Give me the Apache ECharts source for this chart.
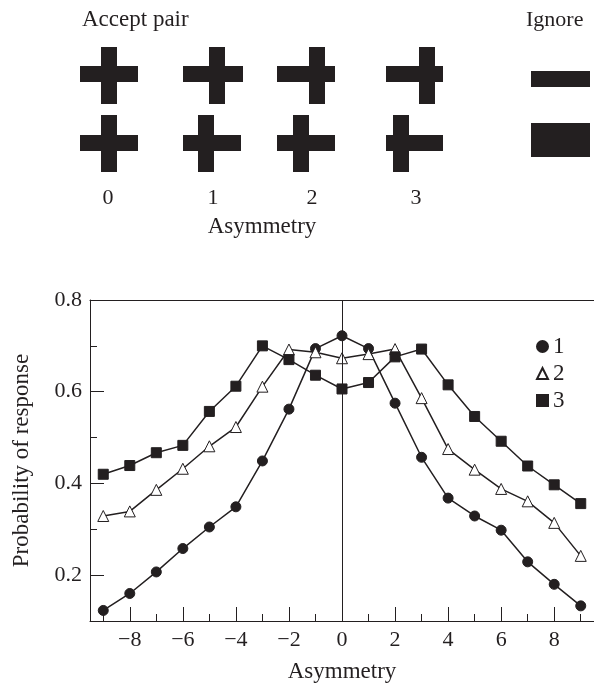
<!DOCTYPE html>
<html>
<head>
<meta charset="utf-8">
<script src="https://cdn.jsdelivr.net/npm/echarts@6/dist/echarts.min.js"></script>
<style>
  html, body { margin: 0; padding: 0; background: #fff; }
  #main { width: 594px; height: 684px; }
</style>
</head>
<body>
<div id="main"></div>
<script>
// asymmetry values along the x axis
var asymmetry = [-9, -8, -7, -6, -5, -4, -3, -2, -1, 0, 1, 2, 3, 4, 5, 6, 7, 8, 9];
var seriesNames = ['1', '2', '3'];
// probability of response
var pair1 = [0.123, 0.160, 0.207, 0.258, 0.305, 0.349, 0.449, 0.562, 0.694, 0.722, 0.694, 0.575, 0.457, 0.368, 0.329, 0.298, 0.229, 0.180, 0.133];
var pair2 = [0.329, 0.339, 0.386, 0.432, 0.481, 0.523, 0.611, 0.692, 0.686, 0.673, 0.682, 0.693, 0.586, 0.475, 0.430, 0.388, 0.361, 0.314, 0.242];
var pair3 = [0.420, 0.439, 0.467, 0.483, 0.557, 0.612, 0.700, 0.670, 0.636, 0.606, 0.620, 0.676, 0.693, 0.615, 0.546, 0.492, 0.438, 0.397, 0.356];
// tick labels
var xMajor = [-8, -6, -4, -2, 0, 2, 4, 6, 8];
var xMinor = [-9, -7, -5, -3, -1, 1, 3, 5, 7, 9];
var yMajor = [0.2, 0.4, 0.6, 0.8];
var yMinor = [0.3, 0.5, 0.7];
var pairLabels = ['0', '1', '2', '3'];

var ink = '#231f20';
var serif = '"Liberation Serif", "Times New Roman", serif';

// stimulus drawings above the chart (pixel layout of the crosses)
var crossRows = [
    { hy: 66, vy: 47 },
    { hy: 135, vy: 115 }
];
var crossCols = [
    { h: [[80, 138], [80, 138]], v: [101, 101], label: 108 },
    { h: [[183, 243], [183, 241]], v: [209, 198], label: 213 },
    { h: [[277, 335], [277, 335]], v: [309, 293], label: 312 },
    { h: [[386, 443], [386, 443]], v: [419, 393], label: 416 }
];
var barW = 16, vLen = 57;

var graphics = [];
crossCols.forEach(function(c, i) {
    crossRows.forEach(function(r, j) {
        graphics.push({
            type: 'rect',
            shape: { x: c.h[j][0], y: r.hy, width: c.h[j][1] - c.h[j][0], height: barW },
            style: { fill: ink }
        });
        graphics.push({
            type: 'rect',
            shape: { x: c.v[j], y: r.vy, width: barW, height: vLen },
            style: { fill: ink }
        });
    });
    graphics.push({
        type: 'text',
        x: c.label, y: 198,
        style: { text: pairLabels[i], font: '22px ' + serif, fill: ink, align: 'center', verticalAlign: 'middle' }
    });
});
graphics.push(
    { type: 'rect', shape: { x: 531, y: 71, width: 59, height: 16 }, style: { fill: ink } },
    { type: 'rect', shape: { x: 531, y: 123, width: 59, height: 34 }, style: { fill: ink } },
    { type: 'text', x: 82, y: 20, style: { text: 'Accept pair', font: '23px ' + serif, fill: ink, verticalAlign: 'middle' } },
    { type: 'text', x: 526, y: 20, style: { text: 'Ignore', font: '22px ' + serif, fill: ink, verticalAlign: 'middle' } },
    { type: 'text', x: 262, y: 227, style: { text: 'Asymmetry', font: '23px ' + serif, fill: ink, align: 'center', verticalAlign: 'middle' } }
);

var lineStyle = { color: ink, width: 1 };
var minus = function(v) { return String(v).replace('-', '\u2212'); };

function makeSeries(name, data, symbol, size, fill) {
    return {
        name: name,
        type: 'line',
        data: asymmetry.map(function(x, i) { return [x, data[i]]; }),
        symbol: symbol,
        symbolSize: size,
        showSymbol: true,
        lineStyle: { color: ink, width: 1.5 },
        itemStyle: { color: fill, borderColor: ink, borderWidth: 1 },
        z: 3
    };
}

var series = [
    makeSeries(seriesNames[0], pair1, 'circle', 10, ink),
    makeSeries(seriesNames[1], pair2, 'triangle', 11, '#fff'),
    makeSeries(seriesNames[2], pair3, 'rect', 10, ink)
];
series[0].markLine = {
    silent: true,
    symbol: 'none',
    label: { show: false },
    lineStyle: { color: ink, width: 1, type: 'solid' },
    data: [{ xAxis: 0 }]
};

var myChart = echarts.init(document.getElementById('main'));
myChart.setOption({
    animation: false,
    backgroundColor: '#fff',
    graphic: graphics,
    grid: { left: 90, top: 300, width: 506, height: 322 },
    legend: {
        orient: 'vertical',
        left: 531,
        top: 330,
        itemWidth: 11,
        itemHeight: 11,
        itemGap: 4,
        textStyle: { fontFamily: serif, fontSize: 23, color: ink, lineHeight: 20 },
        data: [
            { name: '1', icon: 'circle' },
            { name: '2', icon: 'triangle' },
            { name: '3', icon: 'rect' }
        ]
    },
    xAxis: [{
        type: 'value', min: -9.5, max: 9.5, position: 'bottom',
        axisLine: { onZero: false, lineStyle: lineStyle },
        axisTick: { inside: true, length: 14, customValues: xMajor, lineStyle: lineStyle },
        axisLabel: { customValues: xMajor, formatter: minus, fontFamily: serif, fontSize: 22, color: ink, margin: 8 },
        splitLine: { show: false },
        name: 'Asymmetry', nameLocation: 'middle', nameGap: 39,
        nameTextStyle: { fontFamily: serif, fontSize: 23, color: ink }
    }, {
        type: 'value', min: -9.5, max: 9.5, position: 'bottom',
        axisLine: { show: false, onZero: false },
        axisTick: { inside: true, length: 7, customValues: xMinor, lineStyle: lineStyle },
        axisLabel: { show: false },
        splitLine: { show: false }
    }, {
        type: 'value', min: -9.5, max: 9.5, position: 'top',
        axisLine: { onZero: false, lineStyle: lineStyle },
        axisTick: { show: false },
        axisLabel: { show: false },
        splitLine: { show: false }
    }],
    yAxis: [{
        type: 'value', min: 0.1, max: 0.8, position: 'left',
        axisLine: { show: true, onZero: false, lineStyle: lineStyle },
        axisTick: { inside: true, length: 14, customValues: yMajor, lineStyle: lineStyle },
        axisLabel: { customValues: yMajor, formatter: function(v) { return v.toFixed(1); }, fontFamily: serif, fontSize: 22, color: ink, margin: 8 },
        splitLine: { show: false },
        name: 'Probability of response', nameLocation: 'middle', nameGap: 57,
        nameTextStyle: { fontFamily: serif, fontSize: 23, color: ink }
    }, {
        type: 'value', min: 0.1, max: 0.8, position: 'left',
        axisLine: { show: false, onZero: false },
        axisTick: { inside: true, length: 7, customValues: yMinor, lineStyle: lineStyle },
        axisLabel: { show: false },
        splitLine: { show: false }
    }],
    series: series
});
</script>
</body>
</html>
